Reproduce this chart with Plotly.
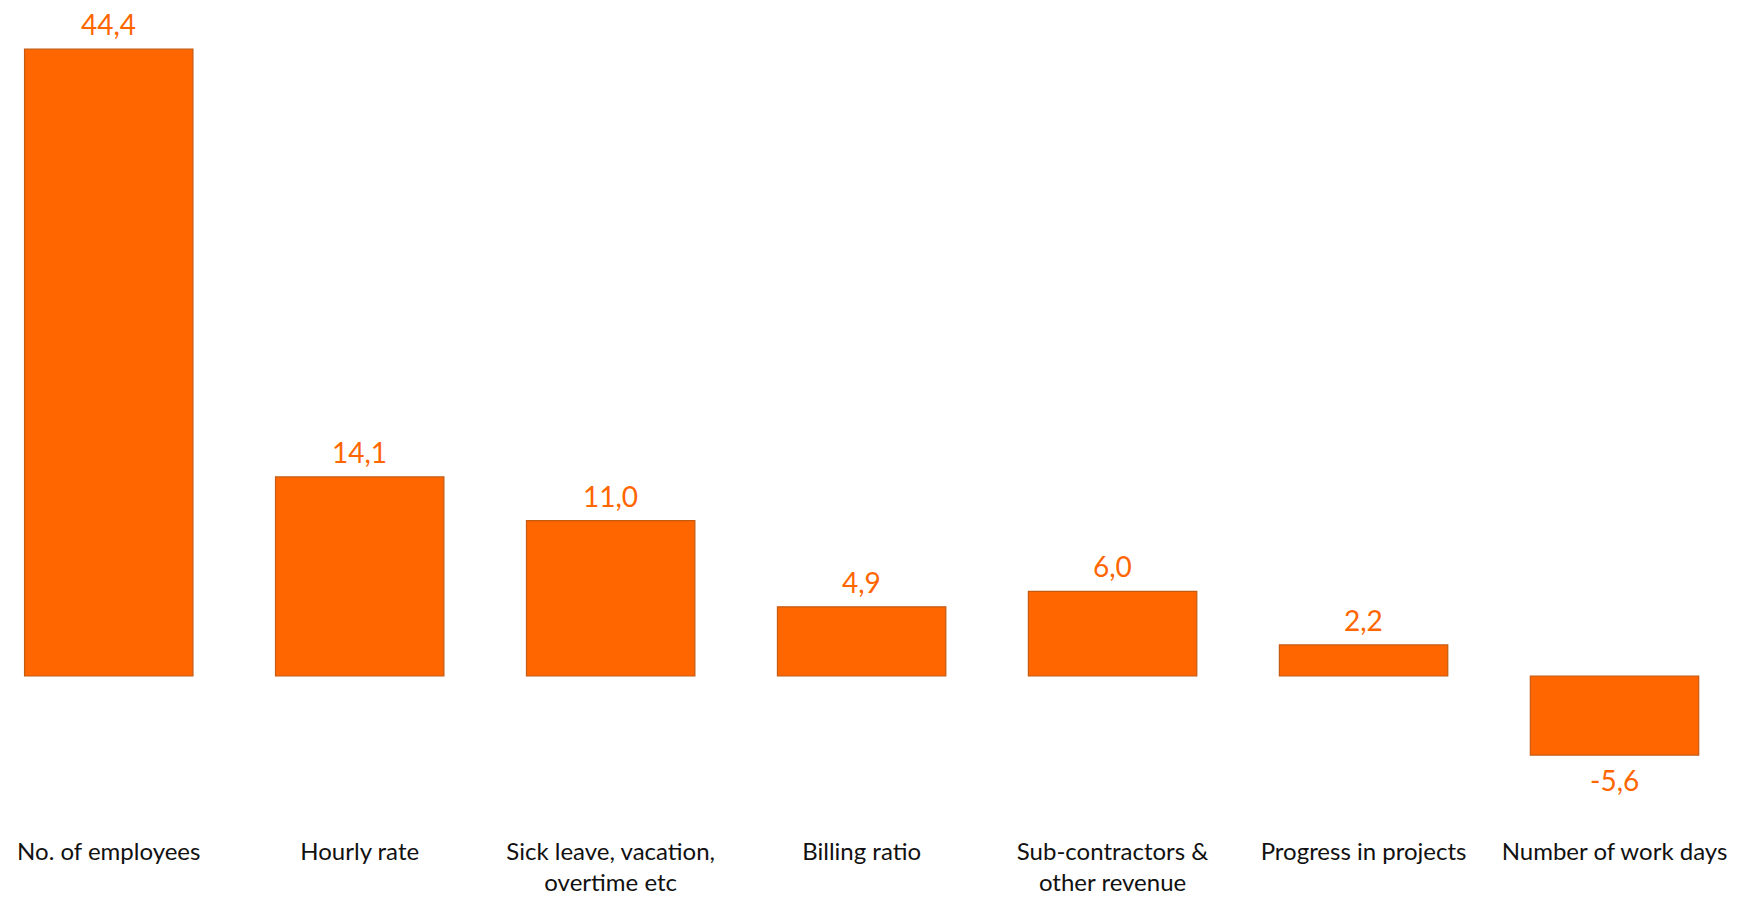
import plotly.graph_objects as go

categories = ["No. of employees", "Hourly rate", "Sick leave, vacation,<br>overtime etc",
              "Billing ratio", "Sub-contractors &<br>other revenue", "Progress in projects",
              "Number of work days"]
values = [44.4, 14.1, 11.0, 4.9, 6.0, 2.2, -5.6]
value_labels = ["44,4", "14,1", "11,0", "4,9", "6,0", "2,2", "-5,6"]

xs = list(range(len(categories)))

fig = go.Figure(go.Bar(
    x=xs,
    y=values,
    marker=dict(color="#FF6600", line=dict(color="#C55A11", width=1.2)),
    width=0.671,
))

for xi, v, lab in zip(xs, values, value_labels):
    fig.add_annotation(
        x=xi, y=v, text=lab, showarrow=False,
        yanchor="bottom" if v >= 0 else "top",
        yshift=6 if v >= 0 else -6,
        font=dict(family="Lato", size=28, color="#FF6600"),
    )

fig.update_layout(
    width=1738, height=897,
    margin=dict(l=0, r=0, t=0, b=62),
    paper_bgcolor="white", plot_bgcolor="white",
    showlegend=False,
    xaxis=dict(
        tickmode="array",
        tickvals=xs,
        ticktext=categories,
        range=[-0.4333, 6.492],
        showgrid=False, zeroline=False, showline=False, ticks="",
        tickfont=dict(family="Lato", size=24, color="#111111"),
        tickangle=0,
    ),
    yaxis=dict(
        range=[-11.26, 47.88],
        visible=False, showgrid=False, zeroline=False,
    ),
)

fig.write_html("out.html")
